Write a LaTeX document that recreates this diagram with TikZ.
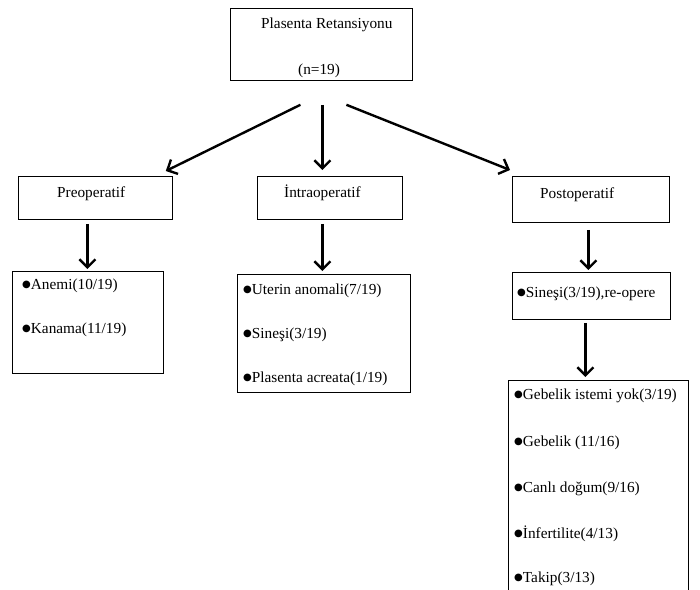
\documentclass[tikz,border=0pt]{standalone}
\usepackage{fontspec}
\setmainfont{Liberation Serif}
\newfontfamily\symfont{DejaVu Sans}
\newcommand\blt{\raisebox{1.6pt}{\symfont\fontsize{10}{11}\selectfont ●}}
\usetikzlibrary{arrows.meta,calc}
\tikzset{
  box/.style={draw, line width=0.8pt, anchor=north west, inner sep=0pt},
  txt/.style={anchor=base west, inner sep=0pt, font=\fontsize{15.3}{18}\selectfont},
  arr/.style={line width=2.4pt, -{Straight Barb[length=8pt,width=16pt]}}
}
\begin{document}
\begin{tikzpicture}[x=1pt,y=-1pt]
\clip (0,0) rectangle (700,589);
\fill[white] (0,0) rectangle (700,589);

% boxes
\node[box, minimum width=182pt, minimum height=72pt] (top) at (230,8) {};
\node[box, minimum width=154pt, minimum height=43pt] (pre) at (18,176) {};
\node[box, minimum width=145pt, minimum height=43pt] (intra) at (257,176) {};
\node[box, minimum width=157pt, minimum height=46pt] (post) at (512,176) {};
\node[box, minimum width=151pt, minimum height=102pt] (prelist) at (12,271) {};
\node[box, minimum width=173pt, minimum height=118pt] (intralist) at (237,274) {};
\node[box, minimum width=158pt, minimum height=47pt] (postsmall) at (512,272) {};
\node[box, minimum width=180pt, minimum height=240pt] (postlist) at (508,380) {};

% texts
\node[txt] (title) at (261,28) {Plasenta Retansiyonu};
\node[txt] (n) at (298,74) {(n=19)};
\node[txt] (pretxt) at (57,197) {Preoperatif};
\node[txt] (intratxt) at (284,197) {İntraoperatif};
\node[txt] (posttxt) at (540,198) {Postoperatif};
\foreach \y/\t [count=\i] in {289/{Anemi(10/19)}, 333/{Kanama(11/19)}}
  \node[txt] (a\i) at (22,\y) {\blt\t};
\foreach \y/\t [count=\i] in {294/{Uterin anomali(7/19)}, 338/{Sineşi(3/19)}, 382/{Plasenta acreata(1/19)}}
  \node[txt] (b\i) at (243,\y) {\blt\t};
\node[txt] (c1) at (517,297) {\blt Sineşi(3/19),re-opere};
\foreach \y/\t [count=\i] in {399/{Gebelik istemi yok(3/19)}, 446/{Gebelik (11/16)}, 492/{Canlı doğum(9/16)}, 538/{İnfertilite(4/13)}, 582/{Takip(3/13)}}
  \node[txt] (d\i) at (514,\y) {\blt\t};

% arrows
\draw[arr] ($(top.south)+(-21,24)$) -- ($(pre.north east)+(-7,-5)$);
\draw[arr] ($(top.south)+(1,24)$) -- ($(intra.north)+(-7.5,-6)$);
\draw[arr] ($(top.south)+(25,24)$) -- ($(post.north west)+(-2,-6)$);
\draw[arr] ($(pre.south)+(-8,4)$) -- ($(prelist.north)+(-0.5,-2)$);
\draw[arr] ($(intra.south)+(-7.5,4)$) -- ($(intralist.north)+(-1.5,-3)$);
\draw[arr] ($(post.south)+(-2.5,7)$) -- ($(postsmall.north)+(-3,-2)$);
\draw[arr] ($(postsmall.south)+(-6,3)$) -- ($(postlist.north)+(-13,-3)$);
\end{tikzpicture}
\end{document}
